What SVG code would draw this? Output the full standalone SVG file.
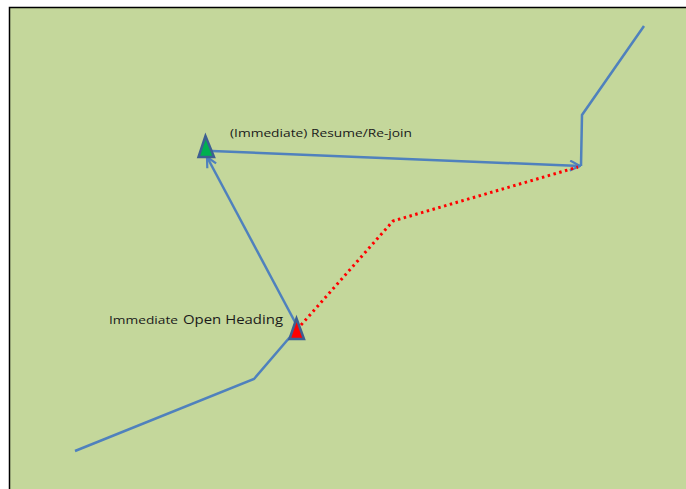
<svg xmlns="http://www.w3.org/2000/svg" width="686" height="489" viewBox="0 0 686 489">
<style>
.route{fill:none;stroke:#4F81BD;stroke-width:2.5;stroke-linejoin:miter}
.dot{fill:none;stroke:#FF0000;stroke-width:3;stroke-dasharray:2.5 3.5}
.tri{stroke:#3D5F91;stroke-width:2.5;stroke-linejoin:miter}
.lbl{font-family:"Open Sans","Liberation Sans",sans-serif;fill:#1a1a1a}
</style>
<defs>
<marker id="arr" viewBox="0 0 12 12" refX="11" refY="6" markerWidth="12" markerHeight="12" markerUnits="userSpaceOnUse" orient="auto">
<path d="M1,1 L11,6 L1,11" fill="none" stroke="#4F81BD" stroke-width="2.2"/>
</marker>
</defs>
<rect x="0" y="0" width="686" height="489" fill="#ffffff"/>
<rect x="9.5" y="7.5" width="690" height="500" fill="#C4D79B" stroke="#000000" stroke-width="1.5"/>
<g id="connectors">
<polyline class="route" points="75,451 254,379 296,330"/>
<polyline class="route" points="581,166 582,115 644,26"/>
<line class="route" x1="295" y1="322" x2="207" y2="157" marker-end="url(#arr)"/>
<line class="route" x1="212" y1="151" x2="580" y2="166" marker-end="url(#arr)"/>
<polyline class="dot" points="301,325 393,221 578,167"/>
</g>
<g id="node-resume">
<polygon class="tri" points="205.5,136 198.5,157 214,157" fill="#00B050"/>
<text class="lbl" x="230" y="137" font-size="11" textLength="182" lengthAdjust="spacingAndGlyphs">(Immediate) Resume/Re-join</text>
</g>
<g id="node-open-heading">
<polygon class="tri" points="296.5,318.5 289.5,339 304,339" fill="#FF0000"/>
<text class="lbl" x="109" y="324" font-size="11" textLength="69" lengthAdjust="spacingAndGlyphs">Immediate</text>
<text class="lbl" x="183" y="324" font-size="13" textLength="100" lengthAdjust="spacingAndGlyphs">Open Heading</text>
</g>
</svg>
